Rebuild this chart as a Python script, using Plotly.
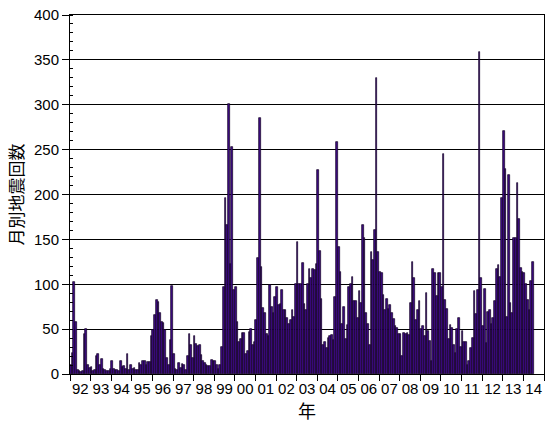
import plotly.graph_objects as go

# Monthly earthquake counts (Jan 1992 - Jun 2014)
years = list(range(1992, 2015))
year_labels = ["92", "93", "94", "95", "96", "97", "98", "99", "00", "01", "02", "03",
               "04", "05", "06", "07", "08", "09", "10", "11", "12", "13", "14"]

y1992 = [10, 23, 102, 58, 4, 3, 2, 3, 45, 50, 10, 7]
y1993 = [8, 3, 5, 20, 22, 10, 17, 6, 4, 3, 3, 6]
y1994 = [14, 6, 5, 4, 3, 14, 8, 9, 6, 22, 4, 10]
y1995 = [6, 7, 5, 5, 12, 10, 15, 15, 10, 13, 13, 42]
y1996 = [49, 66, 82, 80, 68, 58, 57, 49, 18, 10, 38, 98]
y1997 = [22, 6, 4, 12, 7, 11, 10, 4, 20, 45, 32, 18]
y1998 = [42, 33, 31, 32, 21, 14, 12, 10, 9, 9, 16, 14]
y1999 = [14, 10, 6, 10, 30, 97, 196, 166, 301, 123, 253, 94]
y2000 = [97, 58, 36, 39, 46, 46, 22, 26, 47, 50, 32, 36]
y2001 = [60, 129, 285, 119, 73, 68, 45, 42, 99, 75, 68, 86]
y2002 = [97, 77, 78, 94, 71, 71, 62, 56, 60, 71, 63, 100]
y2003 = [147, 100, 100, 124, 78, 71, 100, 117, 107, 117, 116, 123]
y2004 = [227, 137, 84, 32, 36, 29, 40, 42, 43, 38, 86, 258]
y2005 = [142, 114, 56, 75, 39, 55, 97, 100, 108, 81, 81, 62]
y2006 = [92, 79, 166, 151, 68, 56, 32, 136, 127, 160, 330, 136]
y2007 = [114, 112, 88, 71, 84, 72, 77, 68, 61, 54, 51, 45]
y2008 = [45, 20, 46, 45, 46, 43, 79, 125, 107, 60, 71, 81]
y2009 = [50, 54, 42, 90, 48, 37, 14, 117, 112, 87, 112, 113]
y2010 = [97, 245, 83, 72, 39, 55, 51, 32, 23, 50, 62, 30]
y2011 = [48, 36, 36, 10, 14, 29, 40, 93, 67, 94, 359, 107]
y2012 = [53, 95, 34, 69, 71, 56, 62, 81, 117, 121, 108, 196]
y2013 = [271, 228, 64, 222, 79, 68, 151, 152, 213, 173, 118, 114]
y2014 = [112, 100, 83, 71, 104, 125]

yearly = [y1992, y1993, y1994, y1995, y1996, y1997, y1998, y1999, y2000, y2001,
          y2002, y2003, y2004, y2005, y2006, y2007, y2008, y2009, y2010, y2011,
          y2012, y2013, y2014]

x_vals, counts = [], []
for yr, vals in zip(years, yearly):
    for m, v in enumerate(vals):
        x_vals.append(yr + (m + 0.5) / 12.0)
        counts.append(v)

fig = go.Figure(go.Bar(
    x=x_vals, y=counts, width=1 / 12.0,
    marker=dict(color="#3c0a82", line=dict(color="#120024", width=0.7)),
))

font_lat = "Liberation Sans, Arial, sans-serif"
font_cjk = "Noto Sans CJK JP, sans-serif"

fig.update_layout(
    width=545, height=423,
    margin=dict(l=70, r=1, t=15, b=49, autoexpand=False),
    paper_bgcolor="white", plot_bgcolor="white",
    bargap=0, showlegend=False,
    font=dict(family=font_lat, size=15, color="black"),
    xaxis=dict(
        range=[1992, 2015],
        tickmode="array",
        tickvals=[y + 0.5 for y in years],
        ticktext=year_labels,
        ticks="outside", ticklen=1, tickcolor="rgba(0,0,0,0)",
        showgrid=False, zeroline=False,
        showline=True, linecolor="black", linewidth=1, mirror=True,
        ticklabeloverflow="allow",
        minor=dict(tickmode="array", tickvals=list(range(1992, 2016)),
                   ticks="outside", ticklen=6, tickcolor="black", tickwidth=1,
                   showgrid=False),
        title=dict(text="年", font=dict(family=font_cjk, size=18), standoff=7),
    ),
    yaxis=dict(
        range=[0, 400], tick0=0, dtick=50,
        ticks="outside", ticklen=7, tickcolor="black",
        showgrid=True, gridcolor="black", gridwidth=1,
        zeroline=False,
        showline=True, linecolor="black", linewidth=1, mirror=True,
        ticklabeloverflow="allow",
        minor=dict(dtick=10, ticks="inside", ticklen=3, tickcolor="black",
                   showgrid=False),
        title=dict(text="月別地震回数", font=dict(family=font_cjk, size=17), standoff=6),
    ),
)

fig.write_html(
    "out.html",
    config={"displayModeBar": False},
    post_script="document.body.style.margin='0px';document.body.style.overflow='hidden';",
)
